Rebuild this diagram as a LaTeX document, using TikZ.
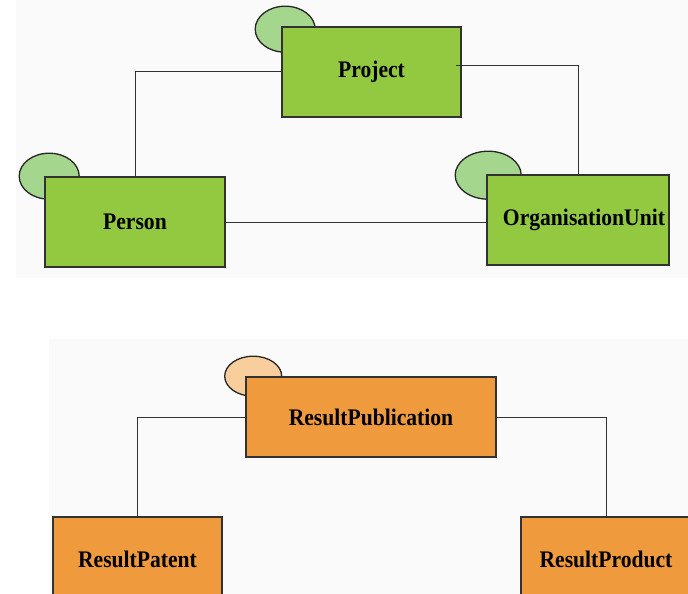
\documentclass[tikz,border=0pt]{standalone}
\usepackage{fontspec}
\setmainfont{Liberation Serif}
\usetikzlibrary{shapes.geometric, positioning, calc, backgrounds}
\definecolor{entgreen}{RGB}{146, 201, 65}
\definecolor{ovalgreen}{RGB}{165, 214, 142}
\definecolor{entorange}{RGB}{238, 154, 61}
\definecolor{ovalorange}{RGB}{248, 206, 156}
\definecolor{bggray}{RGB}{250, 250, 250}
\definecolor{edgegray}{RGB}{50, 50, 50}
\newcommand{\entname}[1]{\scalebox{1}[1.1]{#1}}
\tikzset{
  entity/.style={draw=edgegray, line width=1.6pt, inner sep=0pt,
    font=\fontsize{21.6}{24}\selectfont\bfseries},
  oval/.style={ellipse, draw=black!85, line width=1.3pt, inner sep=0pt},
  link/.style={draw=edgegray, line width=1pt}
}
\begin{document}
\begin{tikzpicture}[x=1pt, y=-1pt]
  \useasboundingbox (0,0) rectangle (688,594);
  \clip (0,0) rectangle (688,594);

  % Top group
  \node[entity, fill=entgreen, minimum width=179pt, minimum height=90pt] (project) at (371.5,72) {\entname{Project}};
  \node[entity, fill=entgreen, minimum width=180pt, minimum height=90pt] (person) at (135,222) {\entname{Person}};
  \node[entity, fill=entgreen, minimum width=182pt, minimum height=90pt] (orgunit) at (578,220) {\hspace*{12pt}\entname{OrganisationUnit}};

  % Bottom group
  \node[entity, fill=entorange, minimum width=250pt, minimum height=80pt] (resultpub) at (371,417) {\entname{ResultPublication}};
  \node[entity, fill=entorange, minimum width=169pt, minimum height=84pt] (resultpat) at (137.5,559) {\entname{ResultPatent}};
  \node[entity, fill=entorange, minimum width=170pt, minimum height=84pt] (resultprod) at (606,559) {\entname{ResultProduct}};

  % faint panels and ovals behind the boxes
  \begin{pgfonlayer}{background}
    \fill[bggray] (16,0) rectangle (688,278);
    \fill[bggray] (49,339) rectangle (688,594);
    \node[oval, fill=ovalgreen, minimum width=60pt, minimum height=46pt] (projectoval) at ([shift={(4,3)}]project.north west) {};
    \node[oval, fill=ovalgreen, minimum width=60pt, minimum height=46pt] (personoval) at ([shift={(5,0)}]person.north west) {};
    \node[oval, fill=ovalgreen, minimum width=66pt, minimum height=48pt] (orgunitoval) at ([shift={(2,1)}]orgunit.north west) {};
    \node[oval, fill=ovalorange, minimum width=57pt, minimum height=40pt] (resultpuboval) at ([shift={(8,0)}]resultpub.north west) {};
  \end{pgfonlayer}

  % connectors
  \draw[link] (project.west) -| (person.north);
  \draw[link] ([shift={(-6,-6)}]project.east) -| (orgunit.north);
  \draw[link] (person.east) -- (person.east -| orgunit.west);
  \draw[link] (resultpub.west) -| (resultpat.north);
  \draw[link] (resultpub.east) -| (resultprod.north);
\end{tikzpicture}
\end{document}
